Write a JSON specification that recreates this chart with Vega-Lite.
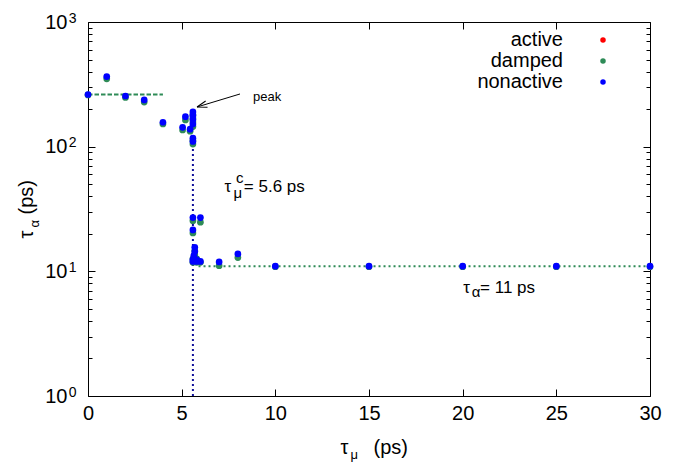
{
  "$schema": "https://vega.github.io/schema/vega-lite/v6.json",
  "width": 562,
  "height": 374,
  "autosize": {"type": "none"},
  "padding": {"left": 88, "top": 22, "right": 28, "bottom": 68},
  "background": "white",
  "config": {
    "view": {"stroke": "#000000", "strokeWidth": 1},
    "axis": {"grid": false, "domain": false, "labelFont": "Liberation Sans", "titleFont": "Liberation Sans", "titleFontWeight": "normal", "labelColor": "#000", "titleColor": "#000", "tickColor": "#000", "tickWidth": 1, "labelFlush": false, "labelOverlap": false, "labelBound": false},
    "text": {"font": "Liberation Sans"}
  },
  "datasets": {
    "pts": [
      {"tau_mu": 0, "tau_alpha": 260, "type": "damped"},
      {"tau_mu": 1, "tau_alpha": 350, "type": "damped"},
      {"tau_mu": 2, "tau_alpha": 248, "type": "damped"},
      {"tau_mu": 3, "tau_alpha": 228, "type": "damped"},
      {"tau_mu": 4, "tau_alpha": 152, "type": "damped"},
      {"tau_mu": 5.05, "tau_alpha": 136, "type": "damped"},
      {"tau_mu": 5.2, "tau_alpha": 164, "type": "damped"},
      {"tau_mu": 5.45, "tau_alpha": 133, "type": "damped"},
      {"tau_mu": 5.6, "tau_alpha": 180, "type": "damped"},
      {"tau_mu": 5.6, "tau_alpha": 170, "type": "damped"},
      {"tau_mu": 5.6, "tau_alpha": 158, "type": "damped"},
      {"tau_mu": 5.6, "tau_alpha": 145, "type": "damped"},
      {"tau_mu": 5.6, "tau_alpha": 112, "type": "damped"},
      {"tau_mu": 5.6, "tau_alpha": 105, "type": "damped"},
      {"tau_mu": 5.6, "tau_alpha": 25.5, "type": "damped"},
      {"tau_mu": 6.0, "tau_alpha": 24.8, "type": "damped"},
      {"tau_mu": 5.6, "tau_alpha": 20.3, "type": "damped"},
      {"tau_mu": 5.7, "tau_alpha": 14.6, "type": "damped"},
      {"tau_mu": 5.7, "tau_alpha": 13.6, "type": "damped"},
      {"tau_mu": 5.6, "tau_alpha": 12.6, "type": "damped"},
      {"tau_mu": 5.8, "tau_alpha": 12.6, "type": "damped"},
      {"tau_mu": 5.6, "tau_alpha": 11.8, "type": "damped"},
      {"tau_mu": 5.8, "tau_alpha": 11.8, "type": "damped"},
      {"tau_mu": 6.0, "tau_alpha": 11.8, "type": "damped"},
      {"tau_mu": 7, "tau_alpha": 11.1, "type": "damped"},
      {"tau_mu": 8, "tau_alpha": 12.9, "type": "damped"},
      {"tau_mu": 10, "tau_alpha": 10.9, "type": "damped"},
      {"tau_mu": 15, "tau_alpha": 10.9, "type": "damped"},
      {"tau_mu": 20, "tau_alpha": 10.9, "type": "damped"},
      {"tau_mu": 25, "tau_alpha": 10.9, "type": "damped"},
      {"tau_mu": 30, "tau_alpha": 10.9, "type": "damped"},
      {"tau_mu": 0, "tau_alpha": 262, "type": "nonactive"},
      {"tau_mu": 1, "tau_alpha": 365, "type": "nonactive"},
      {"tau_mu": 2, "tau_alpha": 255, "type": "nonactive"},
      {"tau_mu": 3, "tau_alpha": 237, "type": "nonactive"},
      {"tau_mu": 4, "tau_alpha": 157, "type": "nonactive"},
      {"tau_mu": 5.05, "tau_alpha": 143, "type": "nonactive"},
      {"tau_mu": 5.2, "tau_alpha": 174, "type": "nonactive"},
      {"tau_mu": 5.45, "tau_alpha": 138, "type": "nonactive"},
      {"tau_mu": 5.6, "tau_alpha": 190, "type": "nonactive"},
      {"tau_mu": 5.6, "tau_alpha": 178, "type": "nonactive"},
      {"tau_mu": 5.6, "tau_alpha": 165, "type": "nonactive"},
      {"tau_mu": 5.6, "tau_alpha": 152, "type": "nonactive"},
      {"tau_mu": 5.6, "tau_alpha": 117, "type": "nonactive"},
      {"tau_mu": 5.6, "tau_alpha": 110, "type": "nonactive"},
      {"tau_mu": 5.6, "tau_alpha": 27, "type": "nonactive"},
      {"tau_mu": 6.0, "tau_alpha": 27, "type": "nonactive"},
      {"tau_mu": 5.6, "tau_alpha": 21.5, "type": "nonactive"},
      {"tau_mu": 5.7, "tau_alpha": 15.6, "type": "nonactive"},
      {"tau_mu": 5.7, "tau_alpha": 14.4, "type": "nonactive"},
      {"tau_mu": 5.65, "tau_alpha": 13.4, "type": "nonactive"},
      {"tau_mu": 5.6, "tau_alpha": 12.4, "type": "nonactive"},
      {"tau_mu": 5.8, "tau_alpha": 12.4, "type": "nonactive"},
      {"tau_mu": 5.6, "tau_alpha": 12, "type": "nonactive"},
      {"tau_mu": 5.8, "tau_alpha": 12, "type": "nonactive"},
      {"tau_mu": 6.0, "tau_alpha": 12, "type": "nonactive"},
      {"tau_mu": 7, "tau_alpha": 11.9, "type": "nonactive"},
      {"tau_mu": 8, "tau_alpha": 13.8, "type": "nonactive"},
      {"tau_mu": 10, "tau_alpha": 11, "type": "nonactive"},
      {"tau_mu": 15, "tau_alpha": 11, "type": "nonactive"},
      {"tau_mu": 20, "tau_alpha": 11, "type": "nonactive"},
      {"tau_mu": 25, "tau_alpha": 11, "type": "nonactive"},
      {"tau_mu": 30, "tau_alpha": 11, "type": "nonactive"}
    ],
    "lines": [
      {"id": "low", "tau_mu": 0, "tau_alpha": 262},
      {"id": "low", "tau_mu": 4, "tau_alpha": 262},
      {"id": "high", "tau_mu": 5.9, "tau_alpha": 11},
      {"id": "high", "tau_mu": 30, "tau_alpha": 11},
      {"id": "crit", "tau_mu": 5.6, "tau_alpha": 1},
      {"id": "crit", "tau_mu": 5.6, "tau_alpha": 120}
    ],
    "notes": [
      {"text": "τ", "x": 7.287, "y": 43.3, "role": "main"},
      {"text": "μ", "x": 7.767, "y": 38.7, "role": "small"},
      {"text": "c", "x": 7.9, "y": 51, "role": "small"},
      {"text": "= 5.6 ps", "x": 8.32, "y": 43.3, "role": "main"},
      {"text": "τ", "x": 20.03, "y": 6.7, "role": "main"},
      {"text": "α", "x": 20.48, "y": 6.23, "role": "small"},
      {"text": "= 11 ps", "x": 20.93, "y": 6.7, "role": "main"},
      {"text": "peak", "x": 8.81, "y": 232, "role": "peak"}
    ],
    "arrow": [
      {"x": 8.114, "y": 264.6, "x2": 5.819, "y2": 208}
    ]
  },
  "layer": [
    {
      "data": {"name": "lines"},
      "transform": [{"filter": "datum.id == 'low'"}],
      "mark": {"type": "line", "color": "#2e8b57", "strokeWidth": 2, "strokeDash": [4.5, 2]},
      "encoding": {
        "x": {"field": "tau_mu", "type": "quantitative", "scale": {"domain": [0, 30], "nice": false, "zero": false},
              "axis": {"orient": "bottom", "values": [0, 5, 10, 15, 20, 25, 30], "ticks": true, "tickSize": -7, "labels": false, "title": null}},
        "y": {"field": "tau_alpha", "type": "quantitative", "scale": {"type": "log", "domain": [1, 1000], "nice": false},
              "axis": {"orient": "left", "values": [1, 10, 100, 1000], "ticks": true, "tickSize": -7, "labels": false, "title": null}}
      }
    },
    {
      "data": {"name": "lines"},
      "transform": [{"filter": "datum.id == 'high'"}],
      "mark": {"type": "line", "color": "#2e8b57", "strokeWidth": 2, "strokeDash": [2, 3]},
      "encoding": {
        "x": {"field": "tau_mu", "type": "quantitative",
              "axis": {"orient": "top", "values": [0, 5, 10, 15, 20, 25, 30], "ticks": true, "tickSize": -7, "labels": false, "title": null}},
        "y": {"field": "tau_alpha", "type": "quantitative",
              "axis": {"orient": "right", "values": [1, 10, 100, 1000], "ticks": true, "tickSize": -7, "labels": false, "title": null}}
      }
    },
    {
      "data": {"name": "lines"},
      "transform": [{"filter": "datum.id == 'crit'"}],
      "mark": {"type": "line", "color": "#10109a", "strokeWidth": 2, "strokeDash": [2, 3]},
      "encoding": {
        "x": {"field": "tau_mu", "type": "quantitative",
              "axis": {"orient": "bottom", "values": [0, 5, 10, 15, 20, 25, 30], "ticks": false, "labels": true, "labelPadding": 7, "labelFontSize": 20,
                       "title": "τ", "titleFontSize": 20, "titleX": 252, "titleY": 57, "titleAlign": "left", "titleBaseline": "alphabetic", "titleAngle": 0}},
        "y": {"field": "tau_alpha", "type": "quantitative",
              "axis": {"orient": "left", "values": [2, 3, 4, 5, 6, 7, 8, 9, 20, 30, 40, 50, 60, 70, 80, 90, 200, 300, 400, 500, 600, 700, 800, 900], "ticks": true, "tickSize": -4, "labels": false,
                       "title": "τ", "titleFontSize": 20, "titleX": -56, "titleY": 216, "titleAlign": "left", "titleBaseline": "alphabetic", "titleAngle": -90}}
      }
    },
    {
      "data": {"name": "pts"},
      "transform": [{"filter": "datum.type == 'damped'"}],
      "mark": {"type": "point", "filled": true, "size": 45, "opacity": 1},
      "encoding": {
        "x": {"field": "tau_mu", "type": "quantitative",
              "axis": {"orient": "bottom", "ticks": false, "labels": false, "title": "μ", "titleFontSize": 13, "titleX": 262, "titleY": 62, "titleAlign": "left", "titleBaseline": "alphabetic", "titleAngle": 0}},
        "y": {"field": "tau_alpha", "type": "quantitative",
              "axis": {"orient": "right", "values": [2, 3, 4, 5, 6, 7, 8, 9, 20, 30, 40, 50, 60, 70, 80, 90, 200, 300, 400, 500, 600, 700, 800, 900], "ticks": true, "tickSize": -4, "labels": false, "title": null}},
        "color": {"field": "type", "type": "nominal",
                  "scale": {"domain": ["active", "damped", "nonactive"], "range": ["#ff0000", "#2e8b57", "#0000ff"]},
                  "legend": {"orient": "none", "legendX": 505, "legendY": 8, "title": null, "padding": 0, "labelFont": "Liberation Sans", "labelFontSize": 20, "labelColor": "#000", "labelAlign": "right", "labelOffset": -50, "symbolSize": 30, "symbolType": "circle", "symbolStrokeWidth": 0, "rowPadding": 1}}
      }
    },
    {
      "data": {"name": "pts"},
      "transform": [{"filter": "datum.type == 'nonactive'"}],
      "mark": {"type": "point", "filled": true, "size": 45, "opacity": 1},
      "encoding": {
        "x": {"field": "tau_mu", "type": "quantitative",
              "axis": {"orient": "bottom", "ticks": false, "labels": false, "title": "(ps)", "titleFontSize": 20, "titleX": 285, "titleY": 57, "titleAlign": "left", "titleBaseline": "alphabetic", "titleAngle": 0}},
        "y": {"field": "tau_alpha", "type": "quantitative",
              "axis": {"orient": "left", "values": [1, 10, 100, 1000], "ticks": false, "labels": true, "labelExpr": "'10'", "labelPadding": 21, "labelFontSize": 20, "labelBaseline": "middle",
                       "title": "α", "titleFontSize": 13, "titleX": -50, "titleY": 205, "titleAlign": "left", "titleBaseline": "alphabetic", "titleAngle": -90}},
        "color": {"field": "type", "type": "nominal"}
      }
    },
    {
      "data": {"name": "notes"},
      "mark": {"type": "text", "align": "left", "baseline": "alphabetic", "color": "#000"},
      "encoding": {
        "x": {"field": "x", "type": "quantitative", "axis": null},
        "y": {"field": "y", "type": "quantitative",
              "axis": {"orient": "left", "values": [1, 10, 100, 1000], "ticks": false, "labels": true, "labelExpr": "'' + round(log(datum.value) / LN10)", "labelPadding": 12, "labelFontSize": 14, "labelBaseline": "alphabetic",
                       "title": "(ps)", "titleFontSize": 20, "titleX": -56, "titleY": 192, "titleAlign": "left", "titleBaseline": "alphabetic", "titleAngle": -90}},
        "text": {"field": "text", "type": "nominal"},
        "size": {"field": "role", "type": "nominal", "scale": {"domain": ["main", "small", "peak"], "range": [17, 13, 17]}, "legend": null}
      }
    },
    {
      "data": {"name": "arrow"},
      "mark": {"type": "rule", "color": "#000", "strokeWidth": 1},
      "encoding": {
        "x": {"field": "x", "type": "quantitative", "axis": null},
        "y": {"field": "y", "type": "quantitative", "axis": null},
        "x2": {"field": "x2"},
        "y2": {"field": "y2"}
      }
    },
    {
      "data": {"name": "arrow"},
      "mark": {"type": "point", "shape": "M0,0L2,-0.65M0,0L2,0.65", "filled": false, "stroke": "#000", "strokeWidth": 1, "size": 100, "angle": 343.2, "opacity": 1},
      "encoding": {
        "x": {"field": "x2", "type": "quantitative", "axis": null},
        "y": {"field": "y2", "type": "quantitative", "axis": null}
      }
    }
  ],
  "resolve": {"axis": {"x": "independent", "y": "independent"}}
}
